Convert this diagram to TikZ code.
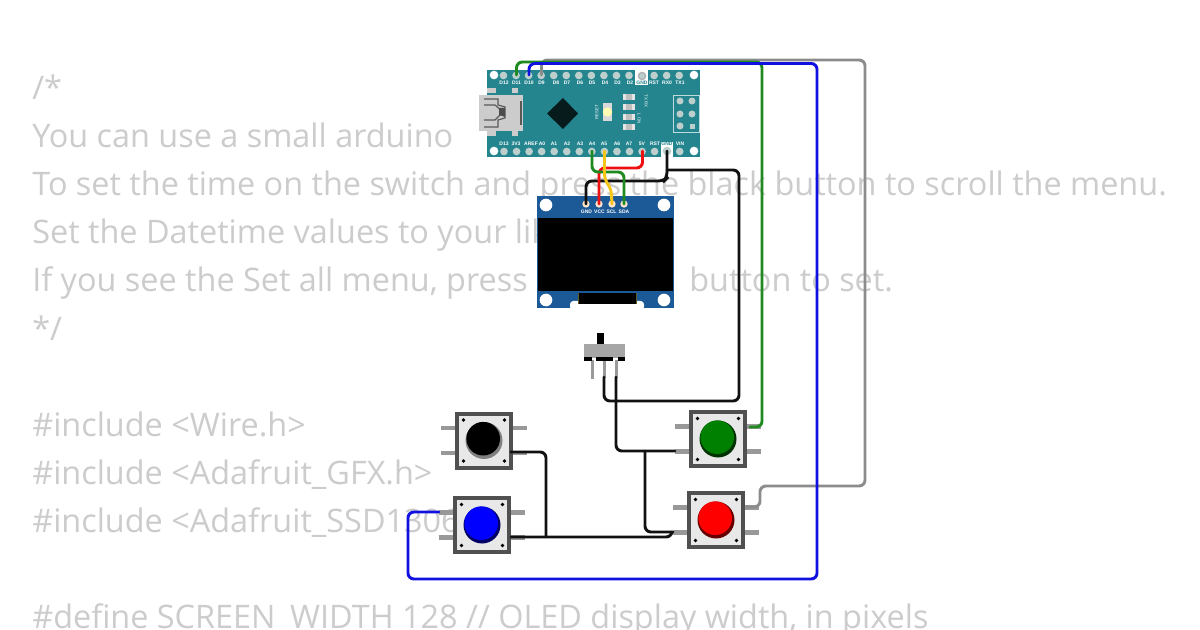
\documentclass[tikz,border=0pt]{standalone}
\usepackage{fontspec}
\setmainfont{Open Sans}
\newfontfamily\pinfont{Liberation Sans}
\definecolor{teal1}{HTML}{24858F}
\definecolor{pad}{HTML}{BCCFCD}
\definecolor{oledblue}{HTML}{1B5A96}
\definecolor{codegray}{HTML}{CCCCCC}
\definecolor{wblack}{HTML}{111111}
\definecolor{wgreen}{HTML}{1F8A1F}
\definecolor{wblue}{HTML}{1010E0}
\definecolor{wgray}{HTML}{8C8C8C}
\definecolor{wred}{HTML}{EE1111}
\definecolor{wyellow}{HTML}{F5C518}
\definecolor{legg}{HTML}{999999}
\definecolor{btnedge}{HTML}{505050}
\definecolor{btnface}{HTML}{E8E8E8}
\tikzset{
 x=0.6pt,y=-0.6pt,
 code/.style={anchor=base west,inner sep=0pt,text=codegray,font=\fontsize{19.44pt}{19.44pt}\selectfont},
 wire/.style={line width=1.75pt,rounded corners=3.5pt,line cap=round},
 lbl/.style={inner sep=0pt,text=white,font=\pinfont\bfseries\fontsize{3pt}{3pt}\selectfont},
 hole/.style={circle,fill=pad,draw=none,minimum size=4.6pt,inner sep=0pt},
 btnbody/.style={draw=btnedge,fill=btnface,line width=2.4pt,minimum size=32.4pt,inner sep=0pt},
}
% push button: name, centre, main colour, shadow colour
\newcommand{\pushbtn}[4]{%
 \begin{scope}[shift={(#2)}]
  \foreach \sx in {-1,1} \foreach \sy in {-1,1}
    \fill[legg] (\sx*28,\sy*12.5-2.3) rectangle (\sx*43,\sy*12.5+2.3);
  \node[btnbody] (#1) at (0,0) {};
  \foreach \sx in {-1,1} \foreach \sy in {-1,1}
    \fill[black] (\sx*20.5,\sy*20.5) circle (1.1pt);
  \fill[#4] (0,0) circle (18.5);
  \fill[#3] (-0.8,-1.8) circle (16.8);
 \end{scope}}
\begin{document}
\begin{tikzpicture}
\useasboundingbox (0,0) rectangle (1200,630);
\fill[white] (0,0) rectangle (1200,630);
% code text
\node[code] (c1) at (32,100) {/*};
\node[code] (c2) at (32,148) {You can use a small arduino};
\node[code] (c3) at (32,196) {To set the time on the switch and press the black button to scroll the menu.};
\node[code] (c4) at (32,244) {Set the Datetime values to your lik};
\node[code] (c5) at (32,292) {If you see the Set all menu, press};
\node[code] (c5b) at (689,292) {button to set.};
\node[code] (c6) at (32,340) {*/};
\node[code] (c7) at (32,436) {\#include <Wire.h>};
\node[code] (c8) at (32,484) {\#include <Adafruit\_GFX.h>};
\node[code] (c9) at (32,532) {\#include <Adafruit\_SSD1306};
\node[code] (c10) at (32,628) {\#define SCREEN\_WIDTH 128 // OLED display width, in pixels};
% Arduino
\fill[teal1] (487,70) rectangle (700,157);
\foreach \p in {494,694} \foreach \q in {75,151} \fill[white] (\p,\q) circle (2.6pt);
% top pins
\foreach \i in {0,...,14} \node[hole] (t\i) at ({503.5+\i*12.55},75.5) {};
\fill[white] (635,70) rectangle (648,85);
\fill[white!70!black] (642,76) circle (2.6pt);
\fill[pad] (642,76) circle (1.6pt);
% bottom pins
\foreach \i in {0,...,14} \node[hole] (b\i) at ({504+\i*12.55},151.5) {};
\fill[white] (661,146) rectangle (673,157);
\fill[pad] (667,151) circle (2.6pt);
% labels
\foreach \t/\x in {D12/504,D11/516.5,D10/529,D9/541.5,D8/556,D7/567,D6/580,D5/592,D4/605,D3/617.5,D2/630,RST/654,RX0/667,TX1/680}
  \node[lbl] at (\x,83) {\t};
\node[lbl,text=teal1,fill=white] at (642,83) {GND};
\foreach \t/\x in {D13/504,3V3/516,AREF/531,A0/542,A1/554,A2/567,A3/580,A4/592,A5/604,A6/617,A7/629,5V/642,RST/655,VIN/680}
  \node[lbl] at (\x,144) {\t};
\node[lbl,text=teal1,fill=white] at (667,144) {GND};
% USB
\fill[black!20] (479,95) rectangle (523,131);
\draw[black!20,line width=3pt] (487,91) -- (496,91) (512,91) -- (518,91) (487,134) -- (496,134) (512,134) -- (518,134);
\draw[black!65,line width=0.7pt] (484,99) -- (498,99) -- (498,105) -- (505,107) -- (505,118) -- (498,120) -- (498,127) -- (484,127) (484,105) -- (495,105) -- (503,112) -- (495,120) -- (484,120);
\fill[black!70] (499,108) -- (505,108) -- (505,117) -- (499,115) -- cycle;
\draw[black!65,line width=0.8pt] (521,101) -- (521,125);
% chip
\fill[black!80!teal1] (563,98) -- (578,113.5) -- (563,129) -- (547,113.5) -- cycle;
% reset button
\fill[black!15] (603,103) rectangle (612,121);
\fill[yellow!30!white] (607.5,112) circle (2.8pt);
\node[lbl,rotate=90,font=\pinfont\fontsize{2.6pt}{3pt}\selectfont] at (597,112) {RESET};
% leds
\foreach \y in {97,107,117,127} {\fill[white!90!black] (623,\y-3) rectangle (635,\y+3);\fill[black!25] (626,\y-3) rectangle (632,\y+3);}
\node[lbl,rotate=-90,font=\pinfont\fontsize{2.6pt}{3pt}\selectfont] at (646,101) {TX RX};
\node[lbl,rotate=-90,font=\pinfont\fontsize{2.6pt}{3pt}\selectfont] at (639,119) {L ON};
% ICSP
\draw[white!70!teal1,line width=0.4pt] (673,95) rectangle (699,132);
\foreach \p in {680,692} \foreach \q in {101,114} \fill[pad] (\p,\q) circle (2.1pt);
\fill[pad] (680,126) circle (2.1pt);
\fill[pad] (690,124) rectangle (695,129);
% OLED
\fill[oledblue] (537,196) rectangle (674,308);
\fill[black] (538,218) rectangle (673,291);
\foreach \p in {546,664} \foreach \q in {205,300} \fill[white] (\p,\q) circle (3.8pt);
\fill[white,rounded corners=2pt] (570,301) rectangle (644,310);
\fill[black] (578,293) rectangle (636,304);
\draw[olive!60!black,line width=0.4pt] (578,293) -- (578,304) (636,293) -- (636,304);
\foreach \x in {586,599,612,624} \fill[white!80!orange] (\x,204) circle (2.2pt);
\foreach \t/\x in {GND/586.5,VCC/599.5,SCL/611.5,SDA/624}
  \node[lbl] at (\x,212) {\t};
% switch
\fill[legg] (591,360) rectangle (593.5,379);
\fill[legg] (602.5,360) rectangle (605.5,378);
\fill[legg] (614.5,360) rectangle (617.5,378);
\fill[black] (597,333) rectangle (604,344);
\fill[black!35] (584,344) rectangle (625,358);
\fill[black] (584,357) rectangle (592,361);
\fill[black] (596,357) rectangle (613,361);
\fill[black] (618,357) rectangle (625,361);
% buttons
\pushbtn{bk}{484,440.5}{black}{black!50}
\pushbtn{bl}{482,525}{blue}{blue!40!black}
\pushbtn{gr}{718,439}{green!50!black}{green!20!black}
\pushbtn{rd}{716,520}{red}{red!40!black}
% wires
\coordinate (aD11) at (516.5,75);
\coordinate (aD10) at (529,75);
\coordinate (aD9) at (541.5,75);
\coordinate (aA4) at (592,151);
\coordinate (aA5) at (604.5,151);
\coordinate (a5V) at (642.5,151);
\coordinate (aGND) at (667,151);
\coordinate (oG) at (586,204);
\coordinate (oV) at (599,204);
\coordinate (oC) at (612,204);
\coordinate (oD) at (624,204);
\coordinate (sw2) at (604,377);
\coordinate (sw3) at (616,377);
\draw[wire,wgray] (aD9) -- (541.5,60) -- (865,60) -- (865,486) -- (760,486) -- (760,507) -- (747,507);
\draw[wire,wgreen] (aD11) -- (516.5,62) -- (762,62) -- (762,427) -- (750,427);
\draw[wire,wblue] (aD10) -- (529,63.5) -- (817,63.5) -- (817,579) -- (408,579) -- (408,512) -- (439,512);
\draw[wire,wblack] (oG) -- (586,181) -- (664,181) -- (667,178) -- (aGND);
\draw[wire,wblack] (667,170) -- (739,170) -- (739,401) -- (604,401) -- (sw2);
\draw[wire,wred] (oV) -- (599,168) -- (642.5,168) -- (a5V);
\draw[wire,wgreen] (aA4) -- (592,172) -- (624,172) -- (oD);
\draw[wire,wyellow] (aA5) -- (604.5,180) -- (611,188) -- (oC);
\draw[wire,wblack] (sw3) -- (616,451) -- (675,451);
\draw[wire,wblack] (645,451) -- (645,532) -- (673,532);
\draw[wire,wblack] (511,537) -- (672,537) -- (672,532);
\draw[wire,wblack] (511,452) -- (546,452) -- (546,537);
\end{tikzpicture}
\end{document}
